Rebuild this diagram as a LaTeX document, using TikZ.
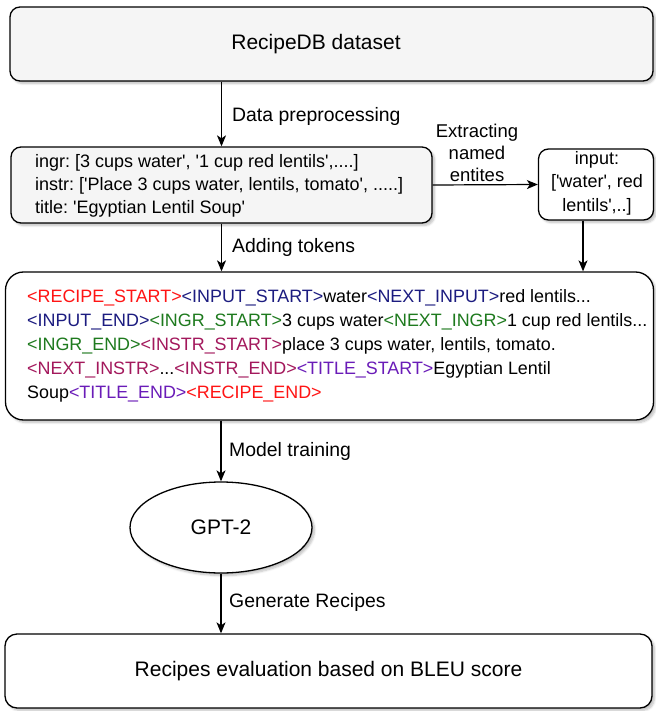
\documentclass[tikz,border=0pt]{standalone}
\usepackage{fontspec}
\setmainfont{Liberation Sans}[Ligatures=TeXOff]
\usetikzlibrary{arrows.meta,shapes.geometric,shadows.blur}
\definecolor{boxgray}{HTML}{F5F5F5}
\definecolor{tkred}{HTML}{FF1414}
\definecolor{tknavy}{HTML}{1C1C80}
\definecolor{tkgreen}{HTML}{1E7A1E}
\definecolor{tkmag}{HTML}{A3185C}
\definecolor{tkpurp}{HTML}{6A1CB8}
\newcommand{\ckred}[1]{\textcolor{tkred}{#1}}
\newcommand{\cknavy}[1]{\textcolor{tknavy}{#1}}
\newcommand{\ckgreen}[1]{\textcolor{tkgreen}{#1}}
\newcommand{\ckmag}[1]{\textcolor{tkmag}{#1}}
\newcommand{\ckpurp}[1]{\textcolor{tkpurp}{#1}}
\frenchspacing
\begin{document}
\begin{tikzpicture}[x=1pt,y=-1pt,
  shad/.style={blur shadow={shadow xshift=2.5pt,shadow yshift=-2.5pt,shadow blur steps=6,shadow opacity=25}},
  box/.style={draw=black,line width=1.3pt,rounded corners=10pt,inner sep=0pt,shad},
  arr/.style={-{Stealth[length=11pt,width=9pt,inset=3pt]},line width=1.2pt},
  lbl/.style={font=\fontsize{19.4}{22}\selectfont,anchor=west,inner sep=0pt},
  big/.style={font=\fontsize{21}{25}\selectfont,inner sep=0pt},
  mid/.style={font=\fontsize{18}{23}\selectfont,inner sep=0pt}
]
\useasboundingbox (0,0) rectangle (655,711);

% boxes
\node[box,fill=boxgray,minimum width=643pt,minimum height=74pt] (db) at (331.5,44) {};
\node[big] (dbt) at (316,44) {RecipeDB dataset};

\node[box,fill=boxgray,minimum width=421pt,minimum height=76pt] (prep) at (221.5,185) {};
\node[mid,anchor=west,align=left] (prept) at (35,186) {ingr: [3 cups water', '1 cup red lentils',....]\\instr: ['Place 3 cups water, lentils, tomato', .....]\\title: 'Egyptian Lentil Soup'};

\node[box,fill=white,minimum width=115pt,minimum height=71pt] (ent) at (596,184.5) {};
\node[mid,align=center,font=\fontsize{18}{23.5}\selectfont] (entt) at (597,183) {input:\\{[}'water', red\\lentils',..]};

\node[box,fill=white,rounded corners=18pt,minimum width=648pt,minimum height=148pt] (tok) at (329.5,346) {};
\node[inner sep=0pt,anchor=west,align=left,font=\fontsize{17.9}{24}\selectfont] (tokt) at (27,346) {%
\ckred{<RECIPE\_START>}\cknavy{<INPUT\_START>}water\cknavy{<NEXT\_INPUT>}red lentils...\\
\cknavy{<INPUT\_END>}\ckgreen{<INGR\_START>}3 cups water\ckgreen{<NEXT\_INGR>}1 cup red lentils...\\
\ckgreen{<INGR\_END>}\ckmag{<INSTR\_START>}place 3 cups water, lentils, tomato.\\
\ckmag{<NEXT\_INSTR>}...\ckmag{<INSTR\_END>}\ckpurp{<TITLE\_START>}Egyptian Lentil\\
Soup\ckpurp{<TITLE\_END>}\ckred{<RECIPE\_END>}};

\node[ellipse,draw=black,line width=1.3pt,fill=white,minimum width=182pt,minimum height=91pt,inner sep=0pt,shad,big] (gpt) at (221,527.5) {GPT-2};

\node[box,fill=white,rounded corners=12pt,minimum width=647pt,minimum height=74pt,big] (eval) at (328.5,671) {Recipes evaluation based on BLEU score};

% connectors
\draw[arr] (prep.north |- db.south) -- (prep.north);
\draw[arr] (prep.east) -- (ent.west);
\draw[arr] (prep.south) -- (prep.south |- tok.north);
\coordinate (entout) at ([xshift=-13pt]ent.south);
\draw[arr] (entout) -- (entout |- tok.north);
\draw[arr] (gpt.north |- tok.south) -- (gpt.north);
\draw[arr] (gpt.south) -- (gpt.south |- eval.north);

% labels
\node[lbl] (l1) at (232,116) {Data preprocessing};
\node[inner sep=0pt,align=center,font=\fontsize{18.5}{22}\selectfont] (l2) at (477,153) {Extracting\\named\\entites};
\node[lbl] (l3) at (232,247) {Adding tokens};
\node[lbl] (l4) at (229,451) {Model training};
\node[lbl] (l5) at (229,602) {Generate Recipes};
\end{tikzpicture}
\end{document}
